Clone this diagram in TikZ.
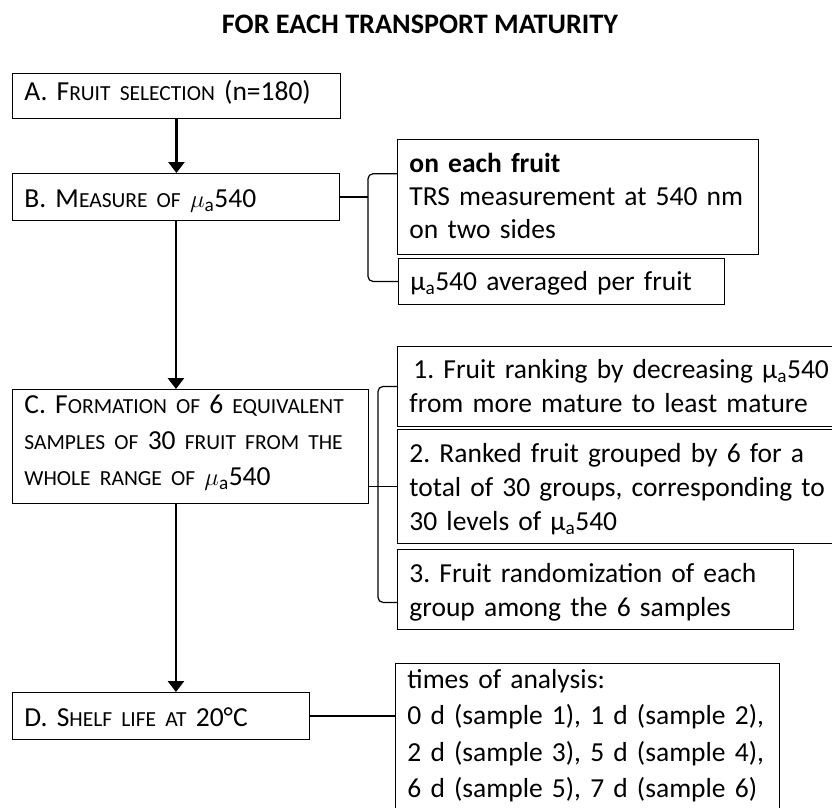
\documentclass[tikz,border=0pt]{standalone}
\usepackage{fontspec}
\setmainfont{Carlito}
\usetikzlibrary{arrows.meta,calc,positioning}

\newcommand{\boxfont}{\frenchspacing\fontsize{27.5pt}{34pt}\selectfont}
\newcommand{\smc}[1]{{\fontsize{21.5pt}{34pt}\selectfont #1}}
\newcommand{\muit}{$\mu$\textsubscript{a}}
\newcommand{\murm}{µ\textsubscript{a}}

\begin{document}
\begin{tikzpicture}[x=1pt,y=-1pt,
    box/.style={draw, line width=0.9pt, anchor=north west, align=left,
                inner xsep=12pt, inner ysep=0pt, font=\boxfont},
    arr/.style={line width=2.8pt, -{Triangle[width=16pt,length=11pt]}},
    link/.style={line width=1.2pt, rounded corners=5pt}]
            \useasboundingbox (0,0) rectangle (832,807);

            % Title
            \node[font=\boxfont\fontsize{28.2pt}{34pt}\selectfont\bfseries, anchor=base] (title) at (420,33)
                {FOR EACH TRANSPORT MATURITY};

            % Main steps
            \node[box, text width=304pt, text height=27pt, text depth=18pt] (A) at (12,73)
                {A. F\smc{RUIT SELECTION} (n=180)};
            \node[box, text width=303pt, text height=34pt, text depth=13pt] (B) at (12,173)
                {B. M\smc{EASURE OF} \muit540};
            \node[box, text width=332pt, text height=24pt, text depth=90pt] (C) at (12,389)
                {C. F\smc{ORMATION OF} 6 \smc{EQUIVALENT}\\[2pt]
                 \smc{SAMPLES OF} 30 \smc{FRUIT FROM THE}\\[2pt]
                 \smc{WHOLE RANGE OF} \muit540};
            \node[box, text width=273pt, text height=34pt, text depth=13pt] (D) at (12,692)
                {D. S\smc{HELF LIFE AT} 20°C};

            % Details of B
            \node[box, text width=337pt, text height=33pt, text depth=82pt] (R1) at (397,139)
                {\textbf{on each fruit}\\[-1pt]TRS measurement at 540 nm\\[-1pt]on two sides};
            \node[box, text width=302pt, text height=32pt, text depth=14pt] (R2) at (398,258)
                {\murm540 averaged per fruit};

            % Details of C
            \node[box, text width=440pt, text height=32pt, text depth=48pt] (S1) at (397,346)
                {\hspace*{4pt}1. Fruit ranking by decreasing \murm540\\from more mature to least mature};
            \node[box, text width=440pt, text height=33pt, text depth=81pt] (S2) at (397,429)
                {2. Ranked fruit grouped by 6 for a\\total of 30 groups, corresponding to\\30 levels of \murm540};
            \node[box, text width=372pt, text height=33pt, text depth=47pt] (S3) at (397,549)
                {3. Fruit randomization of each\\group among the 6 samples};

            % Details of D
            \node[box, text width=360pt, text height=25pt, text depth=135pt] (T) at (395,663)
                {times of analysis:\\[2.5pt]0 d (sample 1), 1 d (sample 2),\\[2.5pt]2 d (sample 3), 5 d (sample 4),\\[2.5pt]6 d (sample 5), 7 d (sample 6)};

            % Arrows
            \draw[arr] (A.south) -- (A.south |- B.north);
            \draw[arr] (B.south) -- (B.south |- C.north);
            \draw[arr] (B.south |- C.south) -- (B.south |- D.north);

            % Brackets
            \coordinate (bx) at (368,0);
            \coordinate (cx) at (378,0);
            \coordinate (b1) at ($(R1.north west)!0.3!(R1.south west)$);
            \coordinate (c3) at ($(S3.north west)!0.66!(S3.south west)$);
            \draw[link] (B.east) -- (B.east -| bx);
            \draw[link] (b1) -- (b1 -| bx) -- (R2.west -| bx) -- (R2.west);
            \draw[link] (C.east |- S2.west) -- (S2.west);
            \draw[link] (S1.west) -- (S1.west -| cx) -- (c3 -| cx) -- (c3);
            \draw[link] (D.east) -- (D.east -| T.west);
        \end{tikzpicture}
\end{document}
